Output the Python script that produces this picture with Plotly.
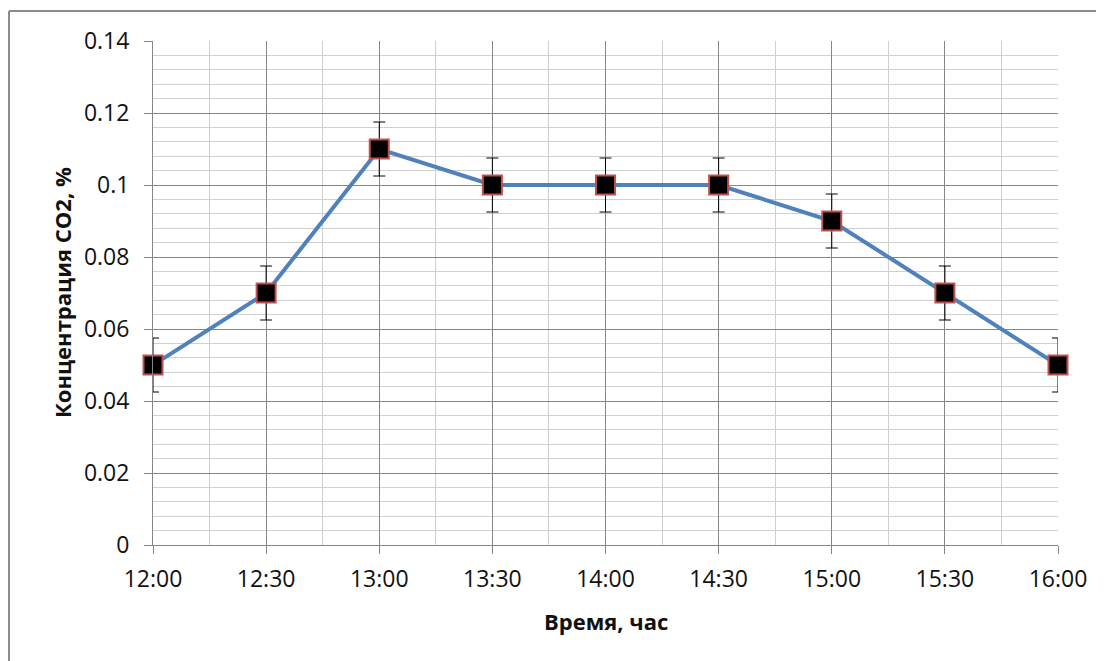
import plotly.graph_objects as go

categories = ["12:00", "12:30", "13:00", "13:30", "14:00", "14:30", "15:00", "15:30", "16:00"]
co2_values = [0.05, 0.07, 0.11, 0.10, 0.10, 0.10, 0.09, 0.07, 0.05]
co2_error = [0.0075] * len(co2_values)
y_ticks = [0, 0.02, 0.04, 0.06, 0.08, 0.1, 0.12, 0.14]
y_labels = ["0", "0.02", "0.04", "0.06", "0.08", "0.1", "0.12", "0.14"]

x_pos = list(range(len(categories)))

# page body has an 8px margin; compensate
OFF = 8
W, H = 1104 - OFF, 661 - OFF
L, R, T, B = 153 - OFF, 1058 - OFF, 41 - OFF, 545 - OFF

fig = go.Figure()
fig.add_trace(go.Scatter(
    x=x_pos, y=co2_values,
    mode="lines+markers",
    line=dict(color="#4F81BD", width=4),
    marker=dict(symbol="square", size=19, color="#000000",
                line=dict(color="#C0504D", width=2)),
    error_y=dict(type="data", array=co2_error, visible=True,
                 color="#000000", thickness=1, width=6),
    showlegend=False,
    cliponaxis=False,
))

major = "#868686"
minor = "#D0D0D0"
font_family = "Open Sans, Liberation Sans, Arial"

fig.update_layout(
    width=W, height=H,
    margin=dict(l=L, r=W - R, t=T, b=H - B, pad=0),
    paper_bgcolor="white", plot_bgcolor="white",
    font=dict(family=font_family, color="#111111"),
    xaxis=dict(
        range=[0, len(categories) - 1],
        tickmode="array", tickvals=x_pos, ticktext=categories,
        showgrid=True, gridcolor=major, gridwidth=1,
        minor=dict(tickmode="linear", tick0=0.5, dtick=1, showgrid=True,
                   gridcolor=minor, gridwidth=1, ticks=""),
        ticks="outside", ticklen=8, tickcolor=major, tickwidth=1,
        ticklabelstandoff=5,
        showline=True, linecolor=major, linewidth=1,
        zeroline=False,
        tickfont=dict(size=23, family=font_family, color="#111111"),
        fixedrange=True,
    ),
    yaxis=dict(
        range=[0, 0.14],
        tickmode="array", tickvals=y_ticks, ticktext=y_labels,
        showgrid=True, gridcolor=major, gridwidth=1,
        minor=dict(tickmode="linear", tick0=0, dtick=0.004, showgrid=True,
                   gridcolor=minor, gridwidth=1, ticks=""),
        ticks="outside", ticklen=8, tickcolor=major, tickwidth=1,
        ticklabelstandoff=10,
        showline=True, linecolor=major, linewidth=1,
        zeroline=False,
        tickfont=dict(size=23, family=font_family, color="#111111"),
        fixedrange=True,
    ),
)

pw, ph = R - L, B - T

def px_x(p):
    return (p - OFF - L) / pw

def px_y(p):
    return (B - (p - OFF)) / ph

fig.add_annotation(
    text="<b>Концентрация CO2, %</b>", textangle=-90,
    x=px_x(62), y=0.5, xref="paper", yref="paper",
    showarrow=False, xanchor="center", yanchor="middle",
    font=dict(size=22, family=font_family, color="#111111"),
)
fig.add_annotation(
    text="<b>Время, час</b>",
    x=0.5, y=px_y(621), xref="paper", yref="paper",
    showarrow=False, xanchor="center", yanchor="middle",
    font=dict(size=22, family=font_family, color="#111111"),
)

# outer chart border (left and top visible)
fig.add_shape(type="line", xref="paper", yref="paper",
              x0=px_x(9), x1=px_x(1110), y0=px_y(11), y1=px_y(11),
              line=dict(color="#8C8C8C", width=2))
fig.add_shape(type="line", xref="paper", yref="paper",
              x0=px_x(9), x1=px_x(9), y0=px_y(11), y1=px_y(670),
              line=dict(color="#8C8C8C", width=2))

fig.write_html("out.html")
